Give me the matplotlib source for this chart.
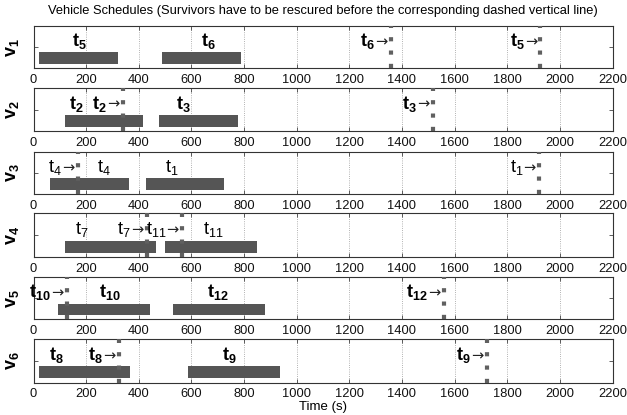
import matplotlib
matplotlib.use('Agg')
import matplotlib.pyplot as plt
import numpy as np

plt.rcParams['font.family'] = ['Liberation Sans', 'DejaVu Sans']
plt.rcParams['mathtext.fontset'] = 'custom'
plt.rcParams['mathtext.rm'] = 'Liberation Sans'
plt.rcParams['mathtext.bf'] = 'Liberation Sans:bold'
plt.rcParams['mathtext.it'] = 'Liberation Sans'

# task bars per vehicle: (start, end, task id)
bars = [
	[(20, 320, 5), (490, 790, 6)],
	[(120, 416, 2), (477, 778, 3)],
	[(63, 362, 4), (429, 723, 1)],
	[(118, 466, 7), (499, 848, 11)],
	[(93, 442, 10), (530, 879, 12)],
	[(19, 365, 8), (587, 936, 9)],
]
# label x positions for the task names above bars
bar_label_x = [
	[175, 663],
	[162, 571],
	[267, 524],
	[182, 682],
	[289, 702],
	[86, 746],
]
# rescue deadlines (dashed vertical lines): (time, task id)
deadlines = [
	[(1358, 6), (1926, 5)],
	[(340, 2), (1518, 3)],
	[(169, 4), (1921, 1)],
	[(431, 7), (565, 11)],
	[(127, 10), (1558, 12)],
	[(325, 8), (1723, 9)],
]
bold_rows = [True, True, False, False, True, True]

panel_top = [26, 88.3, 151.7, 213.3, 277.3, 339.3]
panel_bot = [68.3, 131, 194.3, 257.3, 319.3, 382.7]
W, H = 627, 415
left, right = 33.5, 612.5

bar_color = '#555555'
line_color = '#606060'


def lab(t, bold):
	if bold:
		return r'$\mathbf{t}_{\mathbf{%d}}$' % t
	return r'$\mathrm{t}_{%d}$' % t


fig = plt.figure(figsize=(W/100, H/100), dpi=100)
for i in range(6):
	ax = fig.add_axes([left/W, 1 - panel_bot[i]/H, (right-left)/W, (panel_bot[i]-panel_top[i])/H])
	b = bold_rows[i]
	for (s, e, t), lx in zip(bars[i], bar_label_x[i]):
		ax.barh(0.48, e - s, left=s, height=0.54, color=bar_color, zorder=2)
		ax.text(lx, 1.28, lab(t, b), ha='center', va='center', fontsize=13)
	for (d, t) in deadlines[i]:
		ax.plot([d, d], [0, 2], color=line_color, lw=3, dashes=(1, 2.2), zorder=3,
			dash_capstyle='butt')
		ax.annotate('\u2192', xy=(d, 1.25), xytext=(-2.5, 0), textcoords='offset points',
			ha='right', va='center', fontsize=10.5, family='DejaVu Sans', color='#222222')
		ax.annotate(lab(t, b), xy=(d, 1.28), xytext=(-11.5, 0), textcoords='offset points',
			ha='right', va='center', fontsize=13)
	ax.set_xlim(0, 2200)
	ax.set_ylim(0, 2)
	ax.set_xticks(np.arange(0, 2201, 200))
	ax.set_yticks([1])
	ax.set_yticklabels([])
	ax.tick_params(direction='in', top=True, right=True, labelsize=9.3, length=3, width=0.6,
		colors='#444444', pad=4)
	ax.tick_params(axis='x', labelcolor='#111111')
	ax.grid(axis='x', linestyle=':', color='#999999', lw=0.6)
	for sp in ax.spines.values():
		sp.set_linewidth(0.8)
		sp.set_color('#333333')
	ax.set_ylabel(r'$\mathbf{v}_{\mathbf{%d}}$' % (i + 1), fontsize=13)
	ax.yaxis.set_label_coords(-0.022, 0.5)

fig.text((left + right)/2/W, 1 - 11/H,
	'Vehicle Schedules (Survivors have to be rescured before the corresponding dashed vertical line)',
	ha='center', va='center', fontsize=9.3)
fig.text((left + right)/2/W, 1 - 407/H, 'Time (s)', ha='center', va='center', fontsize=9.5)

fig.savefig('out.png', dpi=100)
